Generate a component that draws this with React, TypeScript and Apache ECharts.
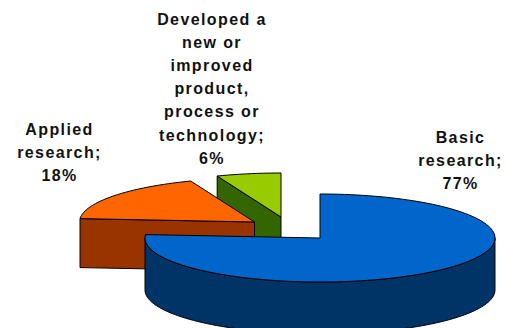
import React, { useEffect, useRef } from "react";
import * as echarts from "echarts";

// Data
const categories = ["Basic research", "Applied research", "Developed a new or improved product, process or technology"];
const labelLines = [
  ["Basic", "research;"],
  ["Applied", "research;"],
  ["Developed a", "new or", "improved", "product,", "process or", "technology;"],
];
const seriesValues = [77, 18, 6];
const topColors = ["#0066CC", "#FF6600", "#99CC00"];
const sideColors = ["#003366", "#993300", "#336600"];

// Layout of the exploded 3D pie
const RX = 175;
const RY = 44;
const sliceDepths = [52, 49, 52];
const sliceCenters = [[320, 238], [254.5, 222], [281, 217]];
const labelCenters = [[460.5, 137], [59.5, 129], [212, 19]];
const LINE_HEIGHT = 23.2;
const FONT = 'bold 16px "Liberation Sans", Arial, sans-serif';

const total = seriesValues.reduce((a, b) => a + b, 0);

function renderSlice(params: any, api: any) {
  const i = params.dataIndex;
  const value = api.value(0);
  let before = 0;
  for (let k = 0; k < i; k++) before += seriesValues[k];
  const a0 = (before / total) * Math.PI * 2;
  const a1 = ((before + value) / total) * Math.PI * 2;
  const [cx, cy] = sliceCenters[i];
  const depth = sliceDepths[i];
  const arc: number[][] = [];
  const steps = Math.max(8, Math.round(((a1 - a0) / (Math.PI * 2)) * 180));
  for (let s = 0; s <= steps; s++) {
    const a = a0 + ((a1 - a0) * s) / steps;
    arc.push([cx + RX * Math.sin(a), cy - RY * Math.cos(a)]);
  }
  const outline = [[cx, cy], ...arc, [cx, cy]];
  const z2 = (3 - i) * 10;
  const children: any[] = [];

  // Extrude every edge that runs right-to-left on a clockwise outline: those face the viewer.
  let run: number[][] = [];
  const flush = () => {
    if (run.length > 1) {
      const lower = run.map((p) => [p[0], p[1] + depth]).reverse();
      children.push({
        type: "polygon",
        z2,
        shape: { points: [...run, ...lower] },
        style: { fill: sideColors[i], stroke: "#000", lineWidth: 1, lineJoin: "round" },
      });
    }
    run = [];
  };
  for (let e = 0; e < outline.length - 1; e++) {
    const p = outline[e];
    const q = outline[e + 1];
    if (q[0] < p[0] - 1e-6) {
      if (run.length === 0) run.push(p);
      run.push(q);
    } else {
      flush();
    }
  }
  flush();

  children.push({
    type: "polygon",
    z2: z2 + 1,
    shape: { points: outline.slice(0, -1) },
    style: { fill: topColors[i], stroke: "#000", lineWidth: 1, lineJoin: "round" },
  });

  const lines = [...labelLines[i], `${value}%`];
  lines.forEach((line, n) => {
    children.push({
      type: "text",
      z2: 100,
      style: {
        x: labelCenters[i][0],
        y: labelCenters[i][1] + n * LINE_HEIGHT,
        text: line,
        font: FONT,
        fill: "#111",
        align: "center",
        verticalAlign: "middle",
      },
    });
  });

  return { type: "group", children };
}

export default function App() {
  const ref = useRef<HTMLDivElement>(null);
  useEffect(() => {
    document.body.style.margin = "0";
    const chart = echarts.init(ref.current!, null, { renderer: "svg" });
    chart.setOption({
      animation: false,
      backgroundColor: "#fff",
      series: [
        {
          type: "custom",
          coordinateSystem: "none",
          clip: false,
          renderItem: renderSlice,
          data: seriesValues.map((v, i) => ({ name: categories[i], value: [v] })),
        },
      ],
    });
    return () => chart.dispose();
  }, []);
  return <div ref={ref} style={{ width: 508, height: 328, letterSpacing: "1.4px" }} />;
}
